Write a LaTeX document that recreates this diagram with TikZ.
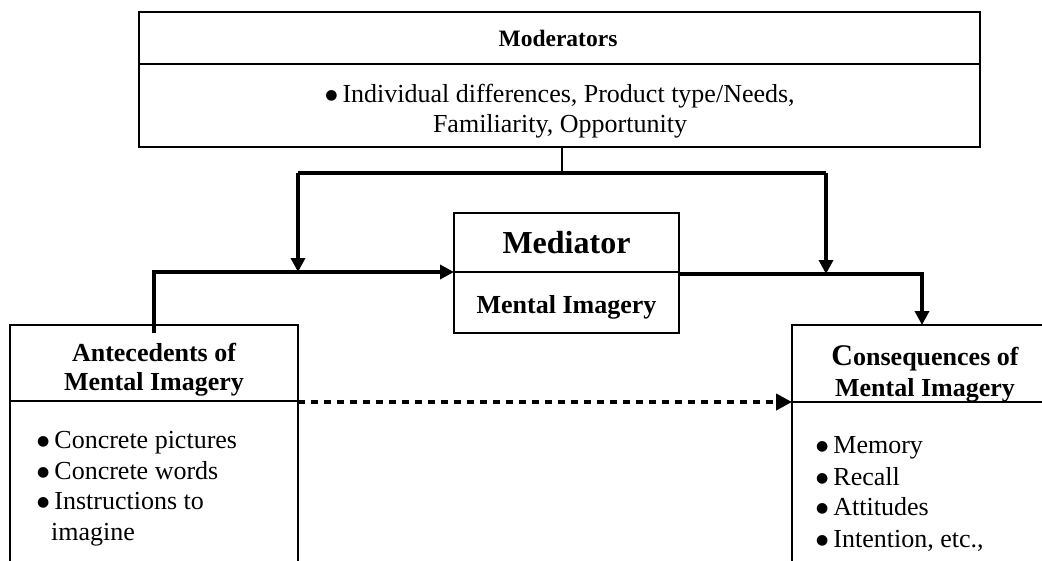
\documentclass[tikz,border=0pt]{standalone}
\usepackage{fontspec}
\setmainfont{Liberation Serif}
\newfontfamily\symfont{DejaVu Sans}
\newcommand\bul{\raisebox{3pt}{\symfont\fontsize{14}{14}\selectfont ●}\hspace{5pt}}
\usetikzlibrary{arrows.meta}
\tikzset{
  box/.style={draw, line width=2pt, inner sep=0pt, outer sep=0pt, anchor=north west},
  conn/.style={line width=3.5pt},
  arr/.style={conn, -{Triangle[length=14pt,width=14pt]}},
  txt/.style={anchor=base, inner sep=0pt, font=\fontsize{26}{30}\selectfont},
  btxt/.style={txt, font=\fontsize{26}{30}\selectfont\bfseries},
  ltxt/.style={txt, anchor=base west},
}
\begin{document}
\begin{tikzpicture}[x=1pt, y=-1pt]
\useasboundingbox (0,0) rectangle (1042,560);
\clip (0,0) rectangle (1042,560);
% Moderators
\node[box, line width=2.5pt, minimum width=841pt, minimum height=135pt] (mod) at (139,12) {};
\draw[line width=2.5pt] (139,64) -- (980,64);
\node[btxt, font=\fontsize{23.5}{28}\selectfont\bfseries] (modt) at (558,46) {Moderators};
\node[txt] (mod1) at (560,102) {\bul Individual differences, Product type/Needs,};
\node[txt] (mod2) at (560,132) {Familiarity, Opportunity};
% Mediator
\node[box, minimum width=225pt, minimum height=120pt] (med) at (454,213) {};
\draw[line width=2pt] (454,272) -- (679,272);
\node[btxt, font=\fontsize{32}{36}\selectfont\bfseries] (medt) at (566.5,253) {Mediator};
\node[btxt] (med1) at (566.5,313) {Mental Imagery};
% Antecedents
\node[box, minimum width=288pt, minimum height=260pt] (ant) at (10,325) {};
\draw[line width=2pt] (10,401) -- (298,401);
\node[btxt] (ant1) at (154,361) {Antecedents of};
\node[btxt] (ant2) at (154,390) {Mental Imagery};
\node[ltxt] (a1) at (37,448) {\bul Concrete pictures};
\node[ltxt] (a2) at (37,479) {\bul Concrete words};
\node[ltxt] (a3) at (37,509) {\bul Instructions to};
\node[ltxt] (a4) at (51,540) {imagine};
% Consequences
\node[box, minimum width=268pt, minimum height=260pt] (con) at (792,325) {};
\draw[line width=2pt] (792,402) -- (1060,402);
\node[btxt] (con1) at (925,365) {{\fontsize{30}{30}\selectfont C}onsequences of};
\node[btxt] (con2) at (925,396) {Mental Imagery};
\node[ltxt] (c1) at (816,453) {\bul Memory};
\node[ltxt] (c2) at (816,485) {\bul Recall};
\node[ltxt] (c3) at (816,515) {\bul Attitudes};
\node[ltxt] (c4) at (816,547) {\bul Intention, etc.,};
% connector coordinates
\coordinate (stemtop) at (562,147);
\coordinate (stembot) at (562,173);
\coordinate (barL) at (298,173);
\coordinate (barR) at (826,173);
\coordinate (joinL) at (298,272);
\coordinate (joinR) at (826,274);
\coordinate (antUp) at (154,333);
\coordinate (antCorner) at (154,272);
\coordinate (medIn) at (454,272);
\coordinate (medOut) at (679,274);
\coordinate (conCorner) at (922,274);
\coordinate (conIn) at (922,325);
\coordinate (dotS) at (298,402);
\coordinate (dotE) at (792,402);
% connectors
\draw[line width=2.5pt] (stemtop) -- (stembot);
\draw[conn] (barL) -- (barR);
\draw[arr] (barL) -- (joinL);
\draw[arr] (barR) -- (joinR);
\draw[arr, line join=miter] (antUp) -- (antCorner) -- (medIn);
\draw[arr, line join=miter] (medOut) -- (conCorner) -- (conIn);
\draw[line width=4.5pt, dash pattern=on 7pt off 6pt, -{Triangle[length=16pt,width=16pt]}] (dotS) -- (dotE);
\end{tikzpicture}
\end{document}
